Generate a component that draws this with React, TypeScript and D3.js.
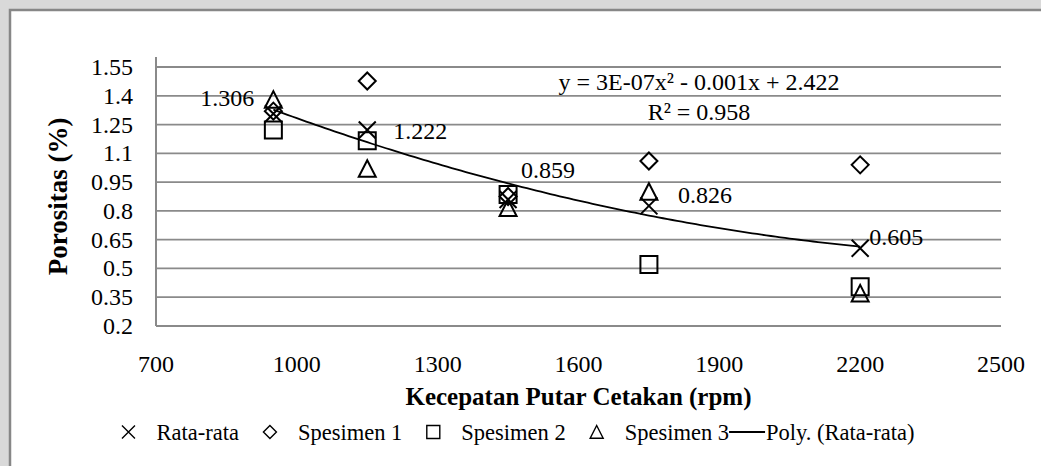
import React, { useEffect, useRef } from 'react';
import * as d3 from 'd3';

// kecepatan putar (rpm)
const speeds = [950, 1150, 1450, 1750, 2200];
const rataRata = [1.306, 1.222, 0.859, 0.826, 0.605];
const spesimen1 = [1.32, 1.477, 0.875, 1.06, 1.04];
const spesimen2 = [1.222, 1.165, 0.885, 0.52, 0.405];
const spesimen3 = [1.38, 1.02, 0.815, 0.9, 0.37];
const yTicks = [0.2, 0.35, 0.5, 0.65, 0.8, 0.95, 1.1, 1.25, 1.4, 1.55];
const xTicks = [700, 1000, 1300, 1600, 1900, 2200, 2500];
const equationText = 'y = 3E-07x² - 0.001x + 2.422';
const r2Text = 'R² = 0.958';

const W = 1041, H = 466;
const FONT = "'Liberation Serif', 'DejaVu Serif', serif";
const GRID = '#8a8a8a';

// where each data label sits relative to its point
const labelPlace = [
  { dx: -19, dy: -8, anchor: 'end' },
  { dx: 26, dy: 9, anchor: 'start' },
  { dx: 13, dy: -22, anchor: 'start' },
  { dx: 29, dy: -3, anchor: 'start' },
  { dx: 9, dy: -3, anchor: 'start' },
];

const markerPath = (shape, r) => {
  if (shape === 'x') return `M${-r},${-r}L${r},${r}M${-r},${r}L${r},${-r}`;
  if (shape === 'diamond') return `M0,${-r}L${r},0L0,${r}L${-r},0Z`;
  if (shape === 'square') return `M${-r},${-r}H${r}V${r}H${-r}Z`;
  return `M0,${-r}L${r},${r * 0.95}H${-r}Z`;
};

// least squares quadratic fit, like Excel's polynomial trendline
const polyFit2 = (xs, ys) => {
  const n = xs.length;
  const s = [0, 0, 0, 0, 0];
  const t = [0, 0, 0];
  for (let i = 0; i < n; i++) {
    for (let k = 0; k < 5; k++) s[k] += Math.pow(xs[i], k);
    for (let k = 0; k < 3; k++) t[k] += ys[i] * Math.pow(xs[i], k);
  }
  const m = [
    [s[0], s[1], s[2], t[0]],
    [s[1], s[2], s[3], t[1]],
    [s[2], s[3], s[4], t[2]],
  ];
  for (let c = 0; c < 3; c++) {
    for (let r = c + 1; r < 3; r++) {
      const f = m[r][c] / m[c][c];
      for (let k = c; k < 4; k++) m[r][k] -= f * m[c][k];
    }
  }
  const b = [0, 0, 0];
  for (let r = 2; r >= 0; r--) {
    let v = m[r][3];
    for (let k = r + 1; k < 3; k++) v -= m[r][k] * b[k];
    b[r] = v / m[r][r];
  }
  return (x) => b[0] + b[1] * x + b[2] * x * x;
};

const App = () => {
  const ref = useRef(null);

  useEffect(() => {
    const svg = d3.select(ref.current);
    svg.selectAll('*').remove();

    const x = d3.scaleLinear().domain([700, 2500]).range([156, 1001]);
    const y = d3.scaleLinear().domain([0.2, 1.55]).range([326, 67]);

    // page background + chart frame
    svg.append('rect').attr('width', W).attr('height', H).attr('fill', '#d9d9d9');
    svg.append('rect')
      .attr('x', 10).attr('y', 10).attr('width', W + 20).attr('height', H + 20)
      .attr('fill', '#fff').attr('stroke', '#878787').attr('stroke-width', 2.5);

    // gridlines
    svg.append('g').selectAll('line').data(yTicks).join('line')
      .attr('x1', x(700)).attr('x2', x(2500))
      .attr('y1', d => y(d)).attr('y2', d => y(d))
      .attr('stroke', GRID).attr('stroke-width', 1.8);
    svg.append('line')
      .attr('x1', x(700)).attr('x2', x(700)).attr('y1', y(1.55) - 10).attr('y2', y(0.2))
      .attr('stroke', GRID).attr('stroke-width', 2);

    const txt = (g, size = 24) => g.style('font-family', FONT).style('font-size', size + 'px').attr('fill', '#000');

    // tick labels
    svg.append('g').selectAll('text').data(yTicks).join('text')
      .call(txt)
      .attr('x', 133).attr('y', d => y(d) + 8)
      .attr('text-anchor', 'end')
      .text(d => String(d));
    svg.append('g').selectAll('text').data(xTicks).join('text')
      .call(txt)
      .attr('x', d => x(d)).attr('y', 372)
      .attr('text-anchor', 'middle')
      .text(d => String(d));

    // axis titles
    svg.append('text').call(txt, 27)
      .style('font-weight', 'bold')
      .attr('transform', `translate(67,${(y(1.55) + y(0.2)) / 2}) rotate(-90)`)
      .attr('text-anchor', 'middle')
      .text('Porositas (%)');
    svg.append('text').call(txt, 25)
      .style('font-weight', 'bold')
      .attr('x', (x(700) + x(2500)) / 2).attr('y', 405)
      .attr('text-anchor', 'middle')
      .text('Kecepatan Putar Cetakan (rpm)');

    const series = [
      { name: 'Rata-rata', shape: 'x', values: rataRata },
      { name: 'Spesimen 1', shape: 'diamond', values: spesimen1 },
      { name: 'Spesimen 2', shape: 'square', values: spesimen2 },
      { name: 'Spesimen 3', shape: 'triangle', values: spesimen3 },
    ];

    series.forEach(s => {
      svg.append('g').selectAll('path').data(s.values).join('path')
        .attr('transform', (d, i) => `translate(${x(speeds[i])},${y(d)})`)
        .attr('d', markerPath(s.shape, 8.5))
        .attr('fill', 'none').attr('stroke', '#000').attr('stroke-width', 2);
    });

    // polynomial trendline
    const fit = polyFit2(speeds, rataRata);
    const trendX = d3.range(speeds[0], speeds[speeds.length - 1] + 1, 10);
    svg.append('path')
      .datum(trendX)
      .attr('d', d3.line().x(d => x(d)).y(d => y(fit(d))))
      .attr('fill', 'none').attr('stroke', '#000').attr('stroke-width', 1.8);

    // data labels
    svg.append('g').selectAll('text').data(rataRata).join('text')
      .call(txt)
      .attr('x', (d, i) => x(speeds[i]) + labelPlace[i].dx)
      .attr('y', (d, i) => y(d) + labelPlace[i].dy)
      .attr('text-anchor', (d, i) => labelPlace[i].anchor)
      .text(d => d.toFixed(3));

    svg.append('text').call(txt)
      .attr('x', 699).attr('y', 90).attr('text-anchor', 'middle').text(equationText);
    svg.append('text').call(txt)
      .attr('x', 699).attr('y', 120).attr('text-anchor', 'middle').text(r2Text);

    // legend, laid out left to right and centred
    const legend = svg.append('g');
    const items = [...series.map(s => ({ name: s.name, shape: s.shape })), { name: 'Poly. (Rata-rata)', shape: 'line' }];
    let cx = 0;
    items.forEach((it, i) => {
      const g = legend.append('g');
      if (it.shape === 'line') {
        g.append('line').attr('x1', cx - 6).attr('x2', cx + 30).attr('y1', -8).attr('y2', -8)
          .attr('stroke', '#000').attr('stroke-width', 2);
        const t = g.append('text').call(txt, 22.5).attr('x', cx + 31).attr('y', 0).text(it.name);
        cx += 31 + t.node().getComputedTextLength();
      } else {
        const mx = cx + 7;
        g.append('path').attr('transform', `translate(${mx},-8)`)
          .attr('d', markerPath(it.shape, 6.5))
          .attr('fill', 'none').attr('stroke', '#000').attr('stroke-width', 1.4);
        const t = g.append('text').call(txt, 22.5).attr('x', mx + 28).attr('y', 0).text(it.name);
        cx = mx + 28 + t.node().getComputedTextLength() + (i === 3 ? 6 : 24);
      }
    });
    legend.attr('transform', `translate(${518 - cx / 2},440)`);
  }, []);

  return (
    <svg ref={ref} width={W} height={H}
      style={{ position: 'absolute', left: 0, top: 0, display: 'block' }} />
  );
};

export default App;
